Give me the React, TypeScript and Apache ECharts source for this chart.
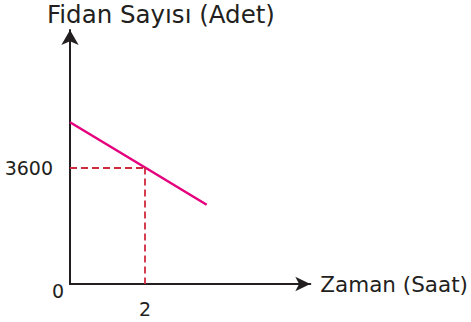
import React, { useEffect, useRef } from "react";
import * as echarts from "echarts";

// Data
const xValues = [0, 2, 3.64];
const yValues = [5000, 3600, 2450];
const guidePoint = [2, 3600];
const xTickLabels = [2];
const yTickLabels = [0, 3600];
const yTitle = "Fidan Sayısı (Adet)";
const xTitle = "Zaman (Saat)";

const FONT = "DejaVu Sans";
const INK = "#231f20";

export default function App() {
  const ref = useRef<HTMLDivElement>(null);
  useEffect(() => {
    if (!ref.current) return;
    const chart = echarts.init(ref.current, undefined, { renderer: "svg" });
    const lineData = xValues.map((x, i) => [x, yValues[i]]);
    chart.setOption({
      animation: false,
      title: {
        text: yTitle,
        left: 47,
        top: 2,
        padding: 0,
        textStyle: { fontFamily: FONT, fontSize: 24.5, fontWeight: "normal", color: INK },
      },
      grid: { left: 70, right: 157.8, top: 30, bottom: 38 },
      xAxis: {
        type: "value",
        min: 0,
        max: 6.4,
        name: xTitle,
        nameLocation: "end",
        nameGap: 10,
        nameTextStyle: { fontFamily: FONT, fontSize: 21.5, color: INK },
        axisLine: {
          show: true,
          symbol: ["none", "arrow"],
          symbolSize: [11, 15],
          lineStyle: { color: INK, width: 2 },
        },
        axisTick: { show: false },
        splitLine: { show: false },
        axisLabel: {
          customValues: xTickLabels,
          margin: 15,
          fontFamily: FONT,
          fontSize: 19,
          color: INK,
          formatter: (v: number) => String(v),
        },
      },
      yAxis: {
        type: "value",
        min: 0,
        max: 7850,
        axisLine: {
          show: true,
          symbol: ["none", "arrow"],
          symbolSize: [13, 15],
          lineStyle: { color: INK, width: 2 },
        },
        axisTick: { show: false },
        splitLine: { show: false },
        axisLabel: {
          customValues: yTickLabels,
          margin: 6,
          fontFamily: FONT,
          fontSize: 19,
          color: INK,
          formatter: (v: number) => (v === 0 ? "{z|0}" : "{a|" + v + "}"),
          rich: {
            z: { fontFamily: FONT, fontSize: 19, color: INK, padding: [13, 0, 0, 0] },
            a: { fontFamily: FONT, fontSize: 19, color: INK, padding: [0, 11, 0, 0] },
          },
        },
      },
      series: [
        {
          type: "line",
          data: lineData,
          showSymbol: false,
          symbol: "none",
          lineStyle: { color: "#e5007d", width: 2.5 },
          z: 3,
          markLine: {
            silent: true,
            symbol: "none",
            label: { show: false },
            lineStyle: { color: "#d02a3d", width: 1.8, type: [7, 4] },
            data: [
              [{ coord: [0, guidePoint[1]] }, { coord: [guidePoint[0], guidePoint[1]] }],
              [{ coord: [guidePoint[0], guidePoint[1]] }, { coord: [guidePoint[0], 0] }],
            ],
          },
        },
      ],
    });
    return () => chart.dispose();
  }, []);
  return (
    <div
      ref={ref}
      style={{ position: "fixed", left: 0, top: 0, width: 471, height: 322, background: "#fff" }}
    />
  );
}
